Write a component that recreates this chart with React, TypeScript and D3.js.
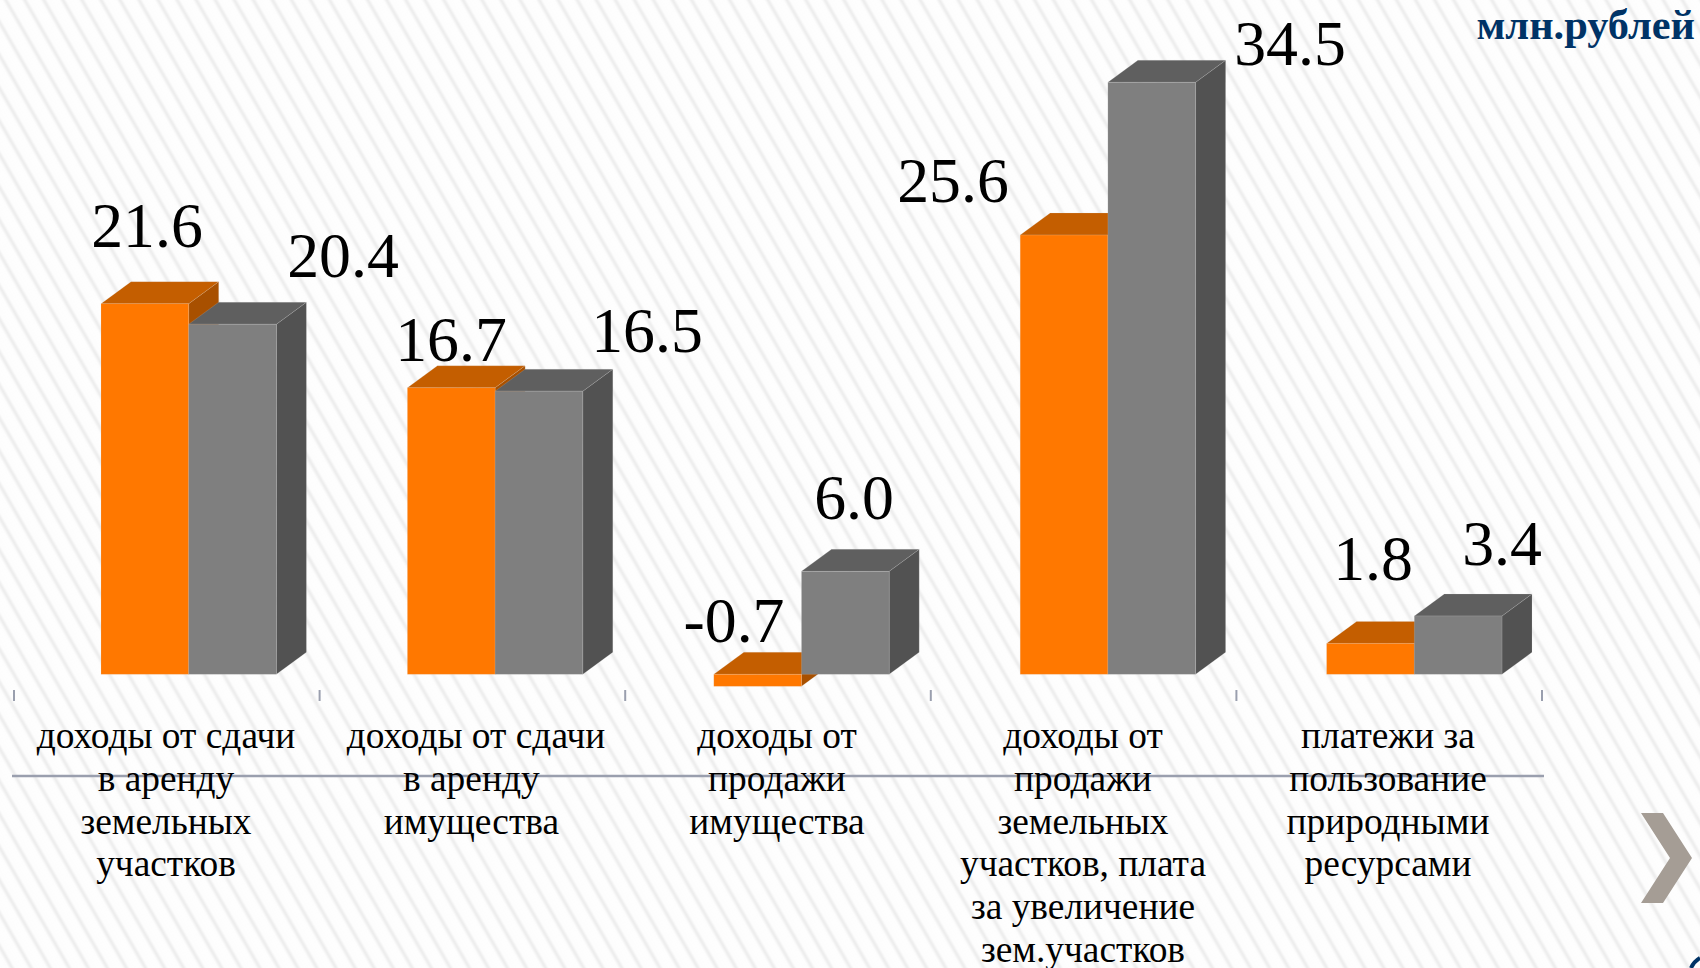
import React from "react";
import * as d3 from "d3";

const categories = [
  ["доходы от сдачи", "в аренду", "земельных", "участков"],
  ["доходы от сдачи", "в аренду\u00a0", "имущества\u00a0"],
  ["доходы от", "продажи", "имущества"],
  ["доходы от", "продажи", "земельных", "участков, плата", "за увеличение", "зем.участков"],
  ["платежи за", "пользование", "природными", "ресурсами"],
];
const seriesA = [21.6, 16.7, -0.7, 25.6, 1.8];
const seriesB = [20.4, 16.5, 6.0, 34.5, 3.4];

const labelPosA = [[147, 247], [451, 361], [734, 642], [953, 202], [1373, 580]];
const labelPosB = [[343, 277], [647, 352], [854, 519], [1290, 65], [1502, 565]];
const labelCenters = [166, 476, 777, 1083, 1388];

const W = 1700, H = 968;
const DX = 30, DY = -22;
const x = d3.scaleBand<number>().domain(d3.range(5)).range([14, 1542]);
const xBars = d3.scaleBand<number>().domain(d3.range(5)).range([101, 101 + 5 * 306.4]);
const y = d3.scaleLinear().domain([0, 34.5]).range([674.3, 82.3]);
const BAR = 87.7;

function Box({ x0, v, front, top, side }: { x0: number; v: number; front: string; top: string; side: string }) {
  const y0 = Math.min(y(v), y(0));
  const y1 = Math.max(y(v), y(0));
  const topY = v < 0 ? y(0) : y0;
  const pts = (a: number[][]) => a.map((p) => p.join(",")).join(" ");
  return (
    <g stroke="#d8d8d8" strokeOpacity={0.2} strokeWidth={0.8}>
      <polygon fill={side} points={pts([[x0 + BAR, topY], [x0 + BAR + DX, topY + DY], [x0 + BAR + DX, y1 + DY], [x0 + BAR, y1]])} />
      <polygon fill={top} points={pts([[x0, topY], [x0 + DX, topY + DY], [x0 + BAR + DX, topY + DY], [x0 + BAR, topY]])} />
      <rect x={x0} y={y0} width={BAR} height={y1 - y0} fill={front} />
    </g>
  );
}

export default function App() {
  const ticks = [...x.domain().map((d) => x(d)!), x.range()[1]];
  return (
    <svg width={W} height={H} style={{ position: "fixed", left: 0, top: 0, background: "#fff" }} fontFamily="'Liberation Serif', serif">
      <defs>
        <linearGradient id="stripeGrad" x1="0" x2="1" y1="0" y2="0">
          <stop offset="0" stopColor="#fefefe" />
          <stop offset="0.12" stopColor="#fdfdfd" />
          <stop offset="0.3" stopColor="#ebebeb" />
          <stop offset="0.48" stopColor="#fdfdfd" />
          <stop offset="1" stopColor="#fefefe" />
        </linearGradient>
        <pattern id="stripes" width={16.5} height={16.5} patternUnits="userSpaceOnUse" patternTransform="rotate(-30)">
          <rect width={16.5} height={16.5} fill="url(#stripeGrad)" />
        </pattern>
      </defs>
      <rect width={W} height={H} fill="url(#stripes)" />
      <path d="M1691,968 A 22 22 0 0 1 1700,958" fill="none" stroke="#003366" strokeWidth={4} />
      <polygon points="1641,813 1663,813 1692,858 1663,903 1641,903 1670,858" fill="#a59d95" />
      <line x1={12} x2={1544} y1={776} y2={776} stroke="#9a9fae" strokeWidth={2.5} />
      {ticks.map((t, i) => (
        <line key={i} x1={t} x2={t} y1={690} y2={701} stroke="#9a9fae" strokeWidth={2} />
      ))}
      {seriesA.map((v, i) => {
        const x0 = xBars(i)!;
        return (
          <g key={i}>
            <Box x0={x0} v={v} front="#ff7800" top="#c45e00" side="#a85000" />
            <Box x0={x0 + BAR} v={seriesB[i]} front="#7f7f7f" top="#5f5f5f" side="#525252" />
          </g>
        );
      })}
      {seriesA.map((v, i) => (
        <text key={i} x={labelPosA[i][0]} y={labelPosA[i][1]} textAnchor="middle" fontSize={63.8}>{v.toFixed(1)}</text>
      ))}
      {seriesB.map((v, i) => (
        <text key={i} x={labelPosB[i][0]} y={labelPosB[i][1]} textAnchor="middle" fontSize={63.8}>{v.toFixed(1)}</text>
      ))}
      {categories.map((lines, i) => (
        <text key={i} textAnchor="middle" fontSize={37.4}>
          {lines.map((l, j) => (
            <tspan key={j} x={labelCenters[i]} y={748 + j * 42.8}>{l}</tspan>
          ))}
        </text>
      ))}
      <text x={1695} y={39} textAnchor="end" fontSize={42.4} fontWeight="bold" fill="#003366">млн.рублей</text>
    </svg>
  );
}
